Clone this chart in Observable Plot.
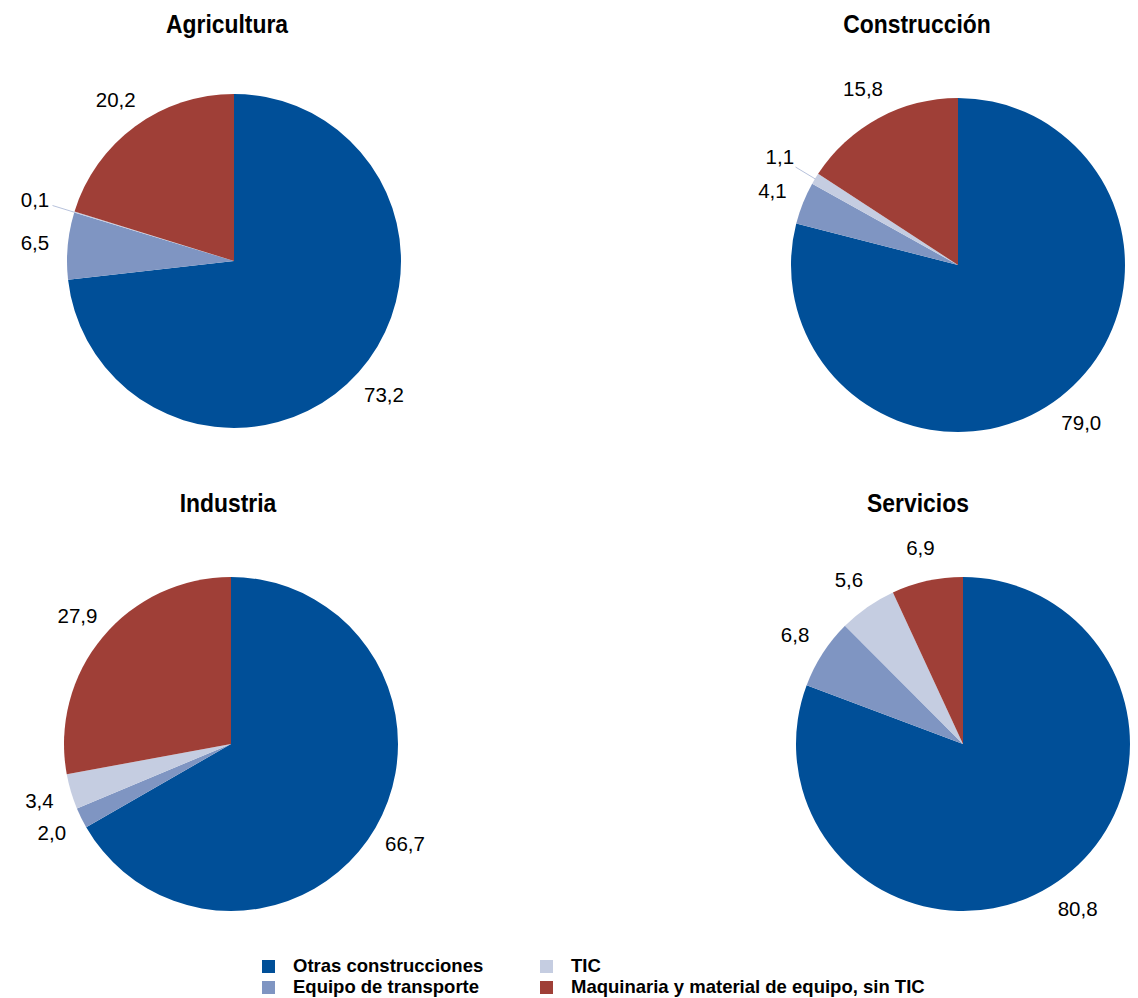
<!DOCTYPE html>
<html>
<head>
<meta charset="utf-8">
<script src="https://cdn.jsdelivr.net/npm/d3@7"></script>
<script src="https://cdn.jsdelivr.net/npm/@observablehq/plot@0.6"></script>
<style>
  body { margin: 0; background: #fff; font-family: "Liberation Sans", Arial, sans-serif; }
  #chart { position: relative; width: 1138px; height: 998px; overflow: hidden; }
  .panel { position: absolute; }
  .title { position: absolute; width: 400px; text-align: center; font-weight: bold; font-size: 26px; line-height: 28px; color: #000; transform: scaleX(0.88); transform-origin: 50% 50%; }
  .legend-item { position: absolute; display: flex; align-items: center; font-weight: bold; font-size: 18.5px; color: #000; white-space: nowrap; }
  .swatch { width: 13px; height: 13px; margin-right: 18px; flex: none; }
</style>
</head>
<body>
<div id="chart"></div>
<script>
// ---- data ----
const categories = ["Otras construcciones", "Equipo de transporte", "TIC", "Maquinaria y material de equipo, sin TIC"];
const colors = ["#004f98", "#7f95c2", "#c5cde1", "#9f3f37"];
const sectors = ["Agricultura", "Construcción", "Industria", "Servicios"];
const agricultura = [73.2, 6.5, 0.1, 20.2];
const construccion = [79.0, 4.1, 1.1, 15.8];
const industria = [66.7, 2.0, 3.4, 27.9];
const servicios = [80.8, 6.8, 5.6, 6.9];
const sectorValues = [agricultura, construccion, industria, servicios];

// ---- layout (pixels) ----
const W = 569, H = 480, R = 167;
const panels = [
  {left: 0,   top: 0,   cx: 234, cy: 261, tx: 227, ty: 10},
  {left: 569, top: 0,   cx: 958, cy: 265, tx: 917, ty: 10},
  {left: 0,   top: 480, cx: 231, cy: 744, tx: 228, ty: 489},
  {left: 569, top: 480, cx: 963, cy: 744, tx: 918, ty: 489}
];

const fmt = v => d3.format(".1f")(v).replace(".", ",");
const color = d3.scaleOrdinal(categories, colors);

function piePlot(values) {
  return function(p) {
    const lcx = p.cx - p.left, lcy = p.cy - p.top;
    const rows = categories.map((c, i) => ({category: c, value: values[i]}));
    const arcs = d3.pie().sort(null).value(d => d.value)(rows);
    const labels = arcs.map(a => {
      const mid = (a.startAngle + a.endAngle) / 2;
      const small = a.data.value < 2;
      const k = small ? 1.25 : 1.2;
      return {text: fmt(a.data.value), x: k * Math.sin(mid), y: k * Math.cos(mid), small, mid};
    });
    const leaders = labels.filter(d => d.small).map(d => ({
      x1: Math.sin(d.mid), y1: Math.cos(d.mid),
      x2: 1.14 * Math.sin(d.mid), y2: 1.14 * Math.cos(d.mid)
    }));
    const slices = (index, scales) => {
      const cx = scales.x(0), cy = scales.y(0);
      const r = scales.x(1) - scales.x(0);
      const arcGen = d3.arc().innerRadius(0).outerRadius(r);
      const g = d3.create("svg:g").attr("transform", `translate(${cx},${cy})`);
      g.selectAll("path").data(arcs).join("path")
        .attr("d", arcGen)
        .attr("fill", d => color(d.data.category));
      return g.node();
    };
    return Plot.plot({
      width: W, height: H, margin: 0,
      style: {fontFamily: "'Liberation Sans', Arial, sans-serif", background: "transparent"},
      x: {domain: [-lcx / R, (W - lcx) / R], axis: null},
      y: {domain: [-(H - lcy) / R, lcy / R], axis: null},
      marks: [
        slices,
        Plot.link(leaders, {x1: "x1", y1: "y1", x2: "x2", y2: "y2", stroke: "#b7c2dc", strokeWidth: 1}),
        Plot.text(labels, {x: "x", y: "y", text: "text", fontSize: 20.5, fill: "#000"})
      ]
    });
  };
}

const chart = document.getElementById("chart");
sectors.forEach((s, i) => {
  const p = panels[i];
  const svg = piePlot(sectorValues[i])(p);
  const wrap = document.createElement("div");
  wrap.className = "panel";
  wrap.style.left = p.left + "px";
  wrap.style.top = p.top + "px";
  wrap.appendChild(svg);
  chart.appendChild(wrap);
  const t = document.createElement("div");
  t.className = "title";
  t.textContent = s;
  t.style.left = (p.tx - 200) + "px";
  t.style.top = p.ty + "px";
  chart.appendChild(t);
});

// legend (column-major, 2 columns)
const legendPos = [
  {x: 262, y: 966}, {x: 262, y: 987}, {x: 540, y: 966}, {x: 540, y: 987}
];
categories.forEach((c, i) => {
  const item = document.createElement("div");
  item.className = "legend-item";
  item.style.left = legendPos[i].x + "px";
  item.style.top = (legendPos[i].y - 11) + "px";
  item.style.height = "22px";
  const sw = document.createElement("span");
  sw.className = "swatch";
  sw.style.background = colors[i];
  const tx = document.createElement("span");
  tx.textContent = c;
  item.appendChild(sw);
  item.appendChild(tx);
  chart.appendChild(item);
});
</script>
</body>
</html>
